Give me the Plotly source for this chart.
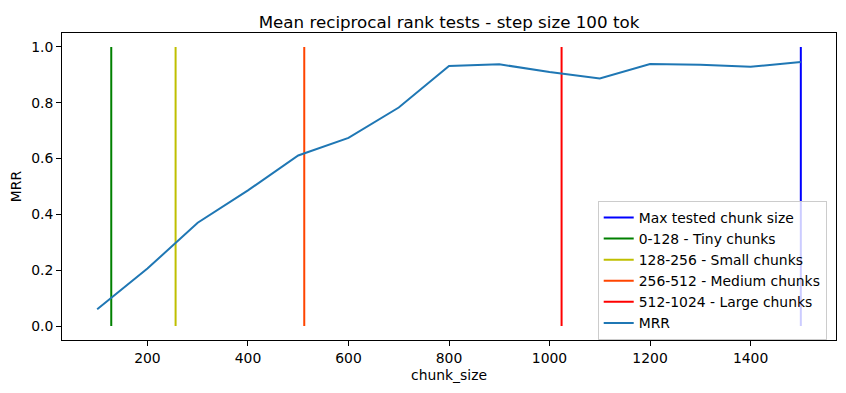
import plotly.graph_objects as go

chunk_size = [100, 200, 300, 400, 500, 600, 700, 800, 900, 1000, 1100, 1200, 1300, 1400, 1500]
mrr = [0.060, 0.206, 0.370, 0.486, 0.611, 0.674, 0.783, 0.932, 0.938, 0.910, 0.887, 0.939, 0.936, 0.929, 0.946]

vline_x = [1500, 128, 256, 512, 1024]
vline_names = ["Max tested chunk size", "0-128 - Tiny chunks", "128-256 - Small chunks",
               "256-512 - Medium chunks", "512-1024 - Large chunks"]
vline_colors = ["#0000ff", "#008000", "#bfbf00", "#ff4500", "#ff0000"]
vline_range = [0, 1]

fig = go.Figure()
for xv, nm, col in zip(vline_x, vline_names, vline_colors):
    fig.add_trace(go.Scatter(x=[xv, xv], y=vline_range, mode="lines", name=nm,
                             line=dict(color=col, width=2)))
fig.add_trace(go.Scatter(x=chunk_size, y=mrr, mode="lines", name="MRR",
                         line=dict(color="#1f77b4", width=2)))

axis_common = dict(showgrid=False, zeroline=False, showline=True, linecolor="black",
                   linewidth=1, mirror=True, ticks="outside", ticklen=5, tickwidth=1,
                   tickcolor="black", tickfont=dict(size=13.9, color="black"), automargin=False)
fig.update_xaxes(range=[30, 1570], tickvals=[200, 400, 600, 800, 1000, 1200, 1400],
                 title=dict(text="chunk_size", font=dict(size=13.9, color="black"), standoff=5),
                 **axis_common)
fig.update_yaxes(range=[-0.05, 1.05], tickvals=[0, 0.2, 0.4, 0.6, 0.8, 1.0], tickformat=".1f",
                 title=dict(text="MRR", font=dict(size=13.9, color="black"), standoff=8),
                 **axis_common)

fig.update_layout(
    width=846, height=393,
    margin=dict(l=54, r=18, t=25, b=61),
    paper_bgcolor="white", plot_bgcolor="white",
    font=dict(family="DejaVu Sans", size=13.9, color="black"),
    title=dict(text="Mean reciprocal rank tests - step size 100 tok", x=0.5, xref="paper",
               xanchor="center", y=1, yref="paper", yanchor="bottom", pad=dict(b=5),
               font=dict(size=16.7, color="black")),
    showlegend=True,
    legend=dict(x=0.988, y=0.0, xanchor="right", yanchor="bottom",
                bgcolor="rgba(255,255,255,0.8)", bordercolor="#cccccc", borderwidth=1,
                font=dict(size=13.9), tracegroupgap=0, itemwidth=30),
)

fig.write_html("out.html")
